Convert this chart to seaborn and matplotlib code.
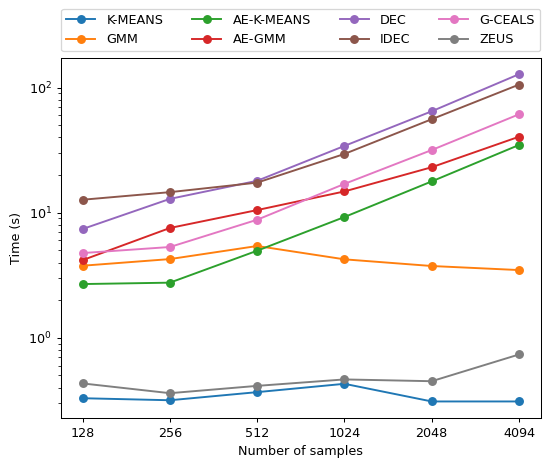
import matplotlib
matplotlib.use("Agg")
import matplotlib.pyplot as plt
import seaborn as sns
import pandas as pd
import numpy as np

samples = ["128", "256", "512", "1024", "2048", "4094"]
methods = ["K-MEANS", "GMM", "AE-K-MEANS", "AE-GMM", "DEC", "IDEC", "G-CEALS", "ZEUS"]
kmeans = [0.329, 0.317, 0.368, 0.429, 0.310, 0.310]
gmm = [3.77, 4.26, 5.42, 4.24, 3.75, 3.48]
ae_kmeans = [2.69, 2.76, 4.97, 9.24, 17.8, 34.8]
ae_gmm = [4.18, 7.55, 10.5, 14.8, 23.1, 40.5]
dec = [7.41, 12.9, 18.0, 34.2, 64.7, 128.0]
idec = [12.7, 14.6, 17.4, 29.5, 55.9, 105.7]
gceals = [4.76, 5.32, 8.79, 17.0, 31.7, 61.2]
zeus = [0.432, 0.361, 0.413, 0.465, 0.450, 0.736]

series = [kmeans, gmm, ae_kmeans, ae_gmm, dec, idec, gceals, zeus]
rows = []
for m, vals in zip(methods, series):
    for i, (s, v) in enumerate(zip(samples, vals)):
        rows.append({"method": m, "pos": i, "time": v})
df = pd.DataFrame(rows)

DPI = 92
fig = plt.figure(figsize=(543 / DPI, 459 / DPI), dpi=DPI)
ax = fig.add_axes([0.112, 0.089, 0.884, 0.785])
palette = sns.color_palette("tab10", 8)
sns.lineplot(data=df, x="pos", y="time", hue="method", hue_order=methods,
             palette=palette, marker="o", markersize=7, markeredgewidth=0,
             linewidth=1.5, ax=ax)
ax.set_yscale("log")
ax.set_xticks(range(len(samples)))
ax.set_xticklabels(samples)
ax.set_xlabel("Number of samples")
ax.set_ylabel("Time (s)")
ax.set_ylim(0.228, 173)
handles, labels = ax.get_legend_handles_labels()
ax.get_legend().remove()
ax.legend(handles, labels, ncol=4, loc="lower center", bbox_to_anchor=(0.5, 1.0),
          fontsize=10, handlelength=2.25, handletextpad=0.9, columnspacing=2.25)
fig.savefig("out.png", dpi=DPI)
